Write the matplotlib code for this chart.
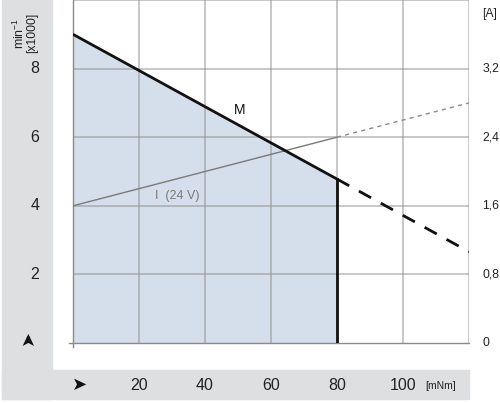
import matplotlib
matplotlib.use("Agg")
import matplotlib.pyplot as plt
from matplotlib.patches import Rectangle

plt.rcParams['font.family'] = ['Liberation Sans', 'DejaVu Sans']
plt.rcParams['mathtext.fontset'] = 'custom'
plt.rcParams['mathtext.rm'] = 'Liberation Sans'

# torque [mNm] and speed [x1000 min-1]
torque = [0, 80]
speed = [9.0, 4.78]
torque_ext = [80, 120]
speed_ext = [4.78, 2.66]

# current [A] at 24 V
current = [1.6, 2.4]
current_ext = [2.4, 2.8]

x_ticks = [20, 40, 60, 80, 100]
y_ticks = [2, 4, 6, 8]
a_ticks = [0, 0.8, 1.6, 2.4, 3.2]
a_labels = ['0', '0,8', '1,6', '2,4', '3,2']

W, H = 500, 403
fig = plt.figure(figsize=(W / 100, H / 100), dpi=100)

band = '#dedfe1'
# grey bands left and bottom (pixel coords from top-left)
fig.patches.append(Rectangle((2 / W, 4 / H), 50 / W, 399 / H, transform=fig.transFigure,
                             color=band, zorder=-5))
fig.patches.append(Rectangle((2 / W, 4 / H), 467 / W, 29 / H, transform=fig.transFigure,
                             color=band, zorder=-5))

ax = fig.add_axes([73 / W, 60 / H, 396 / W, 343 / H])
ax.set_xlim(0, 120)
ax.set_ylim(0, 10)
ax.patch.set_alpha(0)
for s in ax.spines.values():
    s.set_visible(False)
ax.set_xticks([])
ax.set_yticks([])

# permitted operating area
ax.fill_between(torque, speed, 0, color='#d5deeb', lw=0, zorder=1)

# grid
grid_kw = dict(color='#8a8a8a', lw=1.2, alpha=0.55, zorder=2)
for gx in x_ticks + [120]:
    ax.plot([gx, gx], [0, 10], **grid_kw)
for gy in y_ticks + [10]:
    ax.plot([0, 120], [gy, gy], **grid_kw)
ax.plot([-1.2, 120], [0, 0], color='#8a8a8a', lw=1.0, zorder=2, clip_on=False)
ax.plot([0, 0], [-0.12, 10], color='#8a8a8a', lw=1.0, zorder=2, clip_on=False)

# current line (scaled onto speed axis: 1 A = 2.5 units)
ax.plot(torque, [c * 2.5 for c in current], color='#7a7a7a', lw=1.0, zorder=3)
ax.plot(torque_ext, [c * 2.5 for c in current_ext], color='#8a8a8a', lw=1.0,
        ls=(0, (3, 3)), zorder=3)

# speed line
ax.plot(torque, speed, color='#111111', lw=2.0, zorder=4, solid_capstyle='butt')
ax.plot([80, 80], [0, speed[1]], color='#111111', lw=2.0, zorder=4)
ax.plot(torque_ext, speed_ext, color='#111111', lw=2.0, ls=(0, (5, 4)), zorder=4)

ax.text(50.6, 6.8, 'M', fontsize=10, ha='center', va='center', color='#111111')
ax.text(31.5, 4.3, 'I  (24 V)', fontsize=9, ha='center', va='center', color='#7a7a7a')

# left tick labels
for v in y_ticks:
    ax.text(-11.5, v, str(v), fontsize=11.5, ha='center', va='center', color='#222222')
ax.text(-13.7, 0.15, '\u27a4', rotation=90, fontsize=13, ha='center', va='center',
        color='#111111', family='DejaVu Sans')

# bottom tick labels
for v in x_ticks:
    ax.text(v, -1.25, str(v), fontsize=11.5, ha='center', va='center', color='#222222')
ax.text(111.5, -1.25, '[mNm]', fontsize=7.5, ha='center', va='center', color='#222222')
ax.text(2, -1.22, '\u27a4', fontsize=13, ha='center', va='center', color='#111111',
        family='DejaVu Sans')

# right current axis labels
for v, lab in zip(a_ticks, a_labels):
    ax.text(124, v * 2.5, lab, fontsize=8.8, ha='left', va='center', color='#222222')
ax.text(124, 9.6, '[A]', fontsize=8.8, ha='left', va='center', color='#222222')

# y axis unit
fig.text(19 / W, 1 - 33 / H, 'min$^{\\mathrm{-1}}$', rotation=90, fontsize=8.8,
         ha='center', va='center', color='#222222')
fig.text(32 / W, 1 - 33 / H, '[x1000]', rotation=90, fontsize=8.8,
         ha='center', va='center', color='#222222')

fig.savefig('out.png', dpi=100)
